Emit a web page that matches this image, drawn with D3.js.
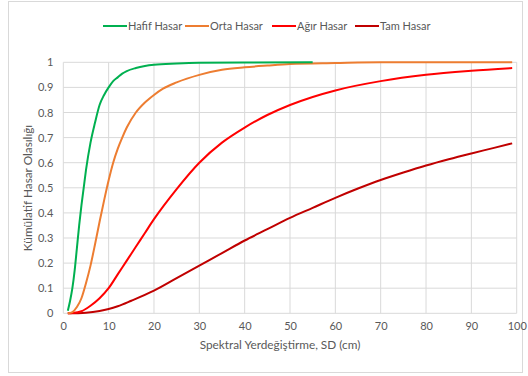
<!DOCTYPE html>
<html>
<head>
<meta charset="utf-8">
<script src="https://cdn.jsdelivr.net/npm/d3@7"></script>
<style>
  body { margin: 0; background: #fff; }
  svg text { font-family: Lato, "Open Sans", sans-serif; fill: #595959; }
</style>
</head>
<body>
<div id="chart"></div>
<script>
// series names and colours
var seriesNames = ['Hafif Hasar', 'Orta Hasar', 'Ağır Hasar', 'Tam Hasar'];
var seriesColors = ['#00B050', '#ED7D31', '#FF0000', '#C00000'];

// spectral displacement (cm) / cumulative probability
var hafifX = [1, 1.5, 2, 2.5, 3, 3.5, 4, 4.5, 5, 6, 7, 8, 9, 10, 11, 12, 13, 14, 16, 18, 20, 25, 30, 40, 55];
var hafifY = [0.01, 0.05, 0.10, 0.17, 0.26, 0.35, 0.43, 0.50, 0.57, 0.68, 0.76, 0.83, 0.87, 0.90, 0.925, 0.94, 0.955, 0.965, 0.977, 0.985, 0.99, 0.995, 0.998, 0.9995, 1];

var ortaX = [1, 2, 3, 4, 5, 6, 7, 8, 9, 10, 11, 12, 13, 14, 16, 18, 20, 22, 25, 30, 35, 40, 45, 50, 60, 70, 99];
var ortaY = [0, 0.005, 0.025, 0.06, 0.12, 0.19, 0.275, 0.365, 0.45, 0.53, 0.60, 0.655, 0.70, 0.74, 0.80, 0.84, 0.87, 0.895, 0.92, 0.95, 0.97, 0.98, 0.987, 0.993, 0.997, 1, 1];

var agirX = [1, 2, 4, 6, 8, 10, 12, 14, 16, 18, 20, 25, 30, 35, 40, 45, 50, 55, 60, 70, 80, 90, 99];
var agirY = [0, 0.001, 0.008, 0.03, 0.06, 0.10, 0.155, 0.21, 0.265, 0.32, 0.375, 0.495, 0.60, 0.68, 0.74, 0.79, 0.83, 0.862, 0.888, 0.925, 0.95, 0.966, 0.977];

var tamX = [1, 3, 5, 8, 10, 12, 15, 20, 25, 30, 35, 40, 45, 50, 55, 60, 65, 70, 75, 80, 85, 90, 95, 99];
var tamY = [0, 0.0005, 0.002, 0.009, 0.017, 0.028, 0.05, 0.09, 0.14, 0.19, 0.24, 0.29, 0.335, 0.38, 0.42, 0.46, 0.497, 0.531, 0.561, 0.589, 0.614, 0.637, 0.659, 0.677];

var xTicks = [0, 10, 20, 30, 40, 50, 60, 70, 80, 90, 100];
var yTicks = [0, 0.1, 0.2, 0.3, 0.4, 0.5, 0.6, 0.7, 0.8, 0.9, 1];

var xTitle = 'Spektral Yerdeğiştirme, SD (cm)';
var yTitle = 'Kümülatif Hasar Olasılığı';

var attrs = {
  width: 528,
  height: 376,
  left: 63.3,
  right: 516.7,
  top: 62.3,
  bottom: 313.3,
  gridColor: '#D9D9D9',
  lineWidth: 2
};

var svg = d3.select('#chart').append('svg')
  .attr('width', attrs.width)
  .attr('height', attrs.height);

// chart border
svg.append('rect')
  .attr('x', 8.5).attr('y', 1.5)
  .attr('width', 514).attr('height', 371)
  .attr('fill', '#fff')
  .attr('stroke', '#D9D9D9');

var x = d3.scaleLinear().domain([0, 100]).range([attrs.left, attrs.right]);
var y = d3.scaleLinear().domain([0, 1]).range([attrs.bottom, attrs.top]);

// gridlines
svg.append('g').selectAll('line.v').data(xTicks).enter().append('line')
  .attr('x1', d => x(d)).attr('x2', d => x(d))
  .attr('y1', attrs.top).attr('y2', attrs.bottom)
  .attr('stroke', attrs.gridColor).attr('stroke-width', 1);

svg.append('g').selectAll('line.h').data(yTicks).enter().append('line')
  .attr('x1', attrs.left).attr('x2', attrs.right)
  .attr('y1', d => y(d)).attr('y2', d => y(d))
  .attr('stroke', attrs.gridColor).attr('stroke-width', 1);

// axes (labels only, Excel style)
var xAxis = d3.axisBottom(x).tickValues(xTicks).tickSize(0).tickPadding(9);
var gx = svg.append('g').attr('transform', 'translate(0,' + attrs.bottom + ')').call(xAxis);
gx.select('.domain').remove();
gx.selectAll('text').attr('font-size', 11).attr('fill', '#595959')
  .style('font-family', 'Lato, sans-serif');

var yAxis = d3.axisLeft(y).tickValues(yTicks).tickSize(0).tickPadding(10).tickFormat(d3.format('~g'));
var gy = svg.append('g').attr('transform', 'translate(' + attrs.left + ',0)').call(yAxis);
gy.select('.domain').remove();
gy.selectAll('text').attr('font-size', 11).attr('fill', '#595959')
  .style('font-family', 'Lato, sans-serif');

// axis titles
svg.append('text')
  .attr('x', 280)
  .attr('y', 349)
  .attr('text-anchor', 'middle')
  .attr('font-size', 11.8)
  .text(xTitle);

svg.append('text')
  .attr('transform', 'translate(32,188) rotate(-90)')
  .attr('text-anchor', 'middle')
  .attr('font-size', 11.8)
  .text(yTitle);

// series
var series = [
  { name: seriesNames[0], color: seriesColors[0], xs: hafifX, ys: hafifY },
  { name: seriesNames[1], color: seriesColors[1], xs: ortaX, ys: ortaY },
  { name: seriesNames[2], color: seriesColors[2], xs: agirX, ys: agirY },
  { name: seriesNames[3], color: seriesColors[3], xs: tamX, ys: tamY }
];

var line = d3.line()
  .x(d => x(d[0]))
  .y(d => y(d[1]))
  .curve(d3.curveMonotoneX);

svg.append('g').selectAll('path').data(series.slice().reverse()).enter().append('path')
  .attr('d', s => line(s.xs.map((v, i) => [v, s.ys[i]])))
  .attr('fill', 'none')
  .attr('stroke', s => s.color)
  .attr('stroke-width', attrs.lineWidth)
  .attr('stroke-linejoin', 'round');

// legend
var legendX = [103, 185, 272, 355];
var legend = svg.append('g').selectAll('g').data(series).enter().append('g')
  .attr('transform', (d, i) => 'translate(' + legendX[i] + ',26)');

legend.append('line')
  .attr('x1', 0).attr('x2', 24)
  .attr('stroke', d => d.color)
  .attr('stroke-width', attrs.lineWidth);

legend.append('text')
  .attr('x', 25).attr('y', 4)
  .attr('font-size', 11)
  .text(d => d.name);
</script>
</body>
</html>
